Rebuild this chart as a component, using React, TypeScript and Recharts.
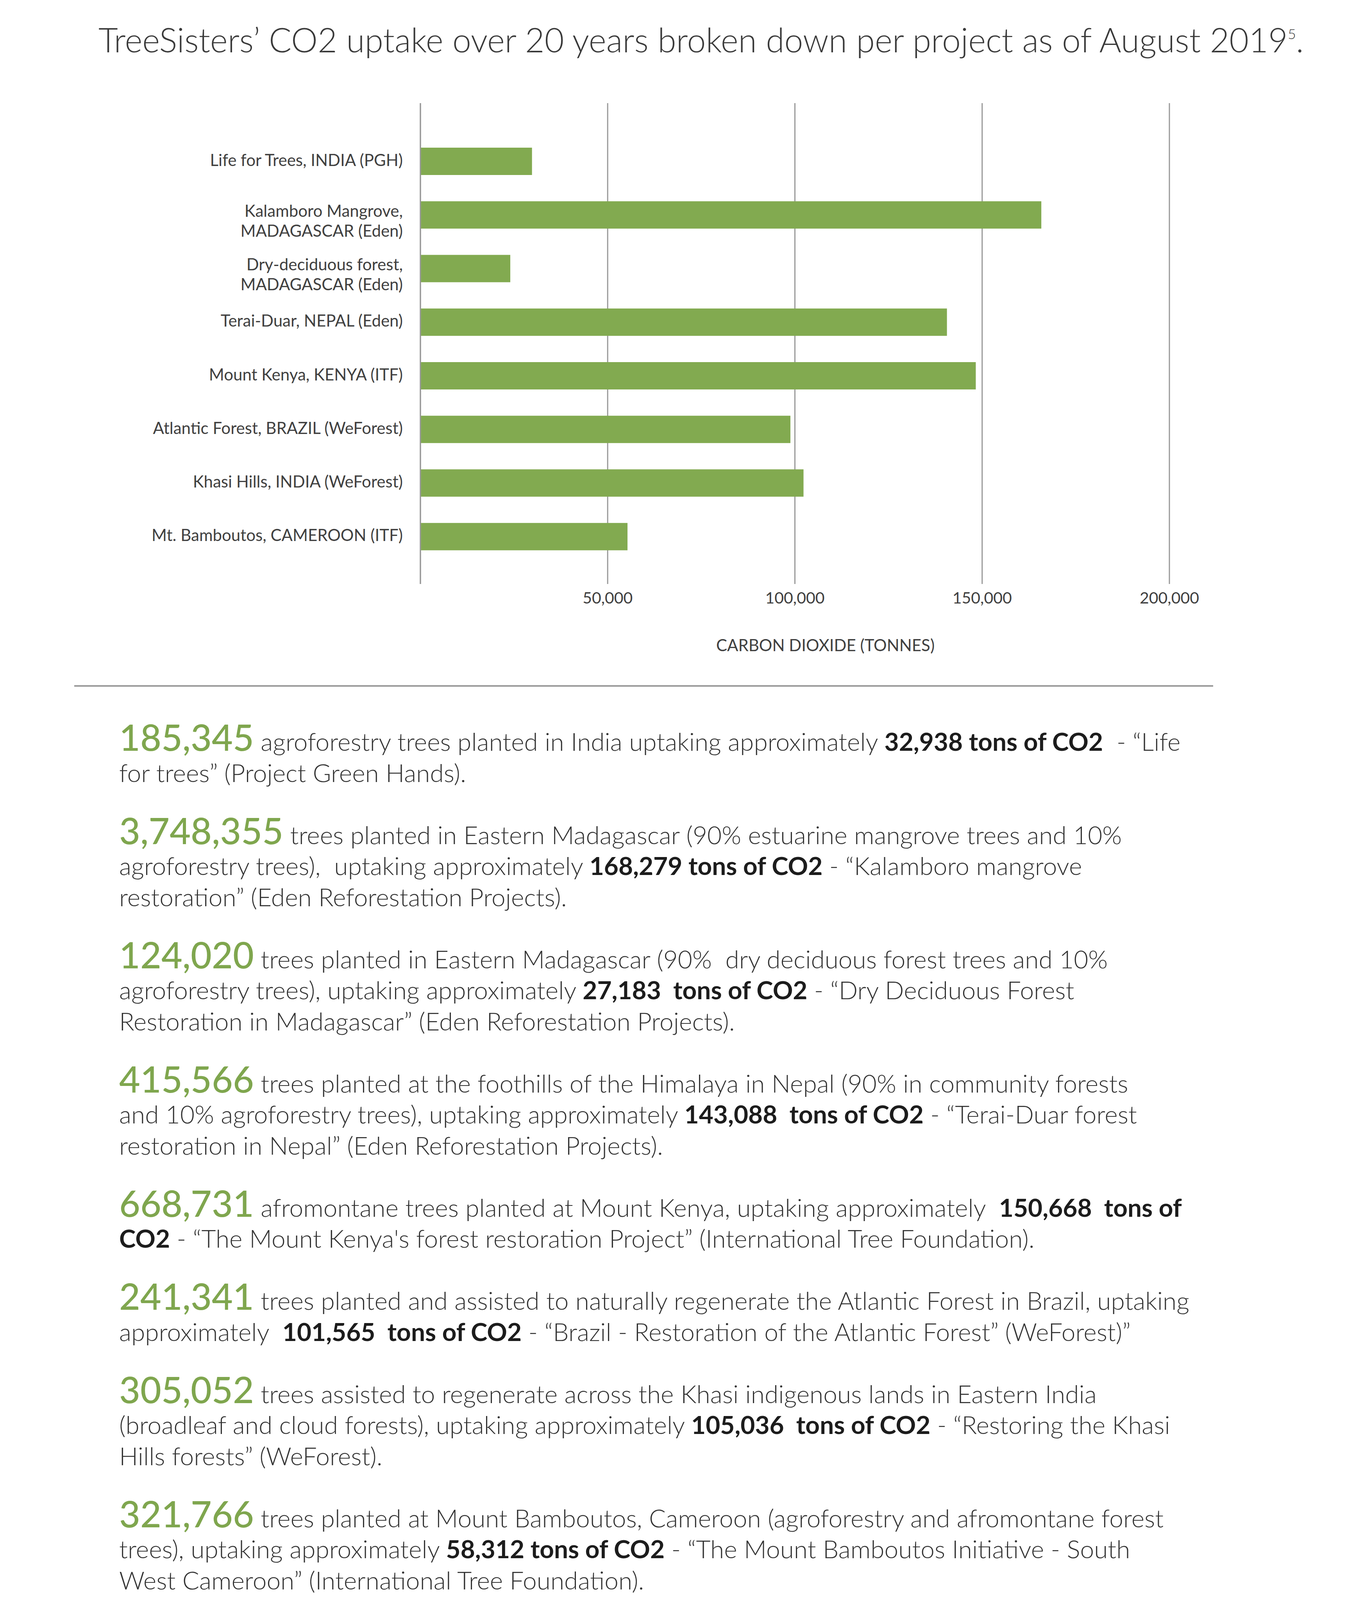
import React from 'react';
import { BarChart, Bar, XAxis, YAxis, CartesianGrid } from 'recharts';

// chart data
const projects = [
  'Life for Trees, INDIA (PGH)',
  'Kalamboro Mangrove,|MADAGASCAR (Eden)',
  'Dry-deciduous forest,|MADAGASCAR (Eden)',
  'Terai-Duar, NEPAL (Eden)',
  'Mount Kenya, KENYA (ITF)',
  'Atlantic Forest, BRAZIL (WeForest)',
  'Khasi Hills, INDIA (WeForest)',
  'Mt. Bamboutos, CAMEROON (ITF)',
];
const co2Tonnes = [29800, 165800, 24000, 140600, 148300, 98800, 102300, 55300];
const xTicks = [50000, 100000, 150000, 200000];

// text blocks under the chart; **...** marks bold
const treeCounts = ['185,345', '3,748,355', '124,020', '415,566', '668,731', '241,341', '305,052', '321,766'];
const paragraphLines = [
  [
    ' agroforestry trees planted in India uptaking approximately **32,938 tons of CO2**  - “Life',
    'for trees” (Project Green Hands).',
  ],
  [
    ' trees planted in Eastern Madagascar (90% estuarine mangrove trees and 10%',
    'agroforestry trees),  uptaking approximately **168,279 tons of CO2** - “Kalamboro mangrove',
    'restoration” (Eden Reforestation Projects).',
  ],
  [
    ' trees planted in Eastern Madagascar (90%  dry deciduous forest trees and 10%',
    'agroforestry trees), uptaking approximately **27,183  tons of CO2** - “Dry Deciduous Forest',
    'Restoration in Madagascar” (Eden Reforestation Projects).',
  ],
  [
    ' trees planted at the foothills of the Himalaya in Nepal (90% in community forests',
    'and 10% agroforestry trees), uptaking approximately **143,088  tons of CO2** - “Terai-Duar forest',
    'restoration in Nepal” (Eden Reforestation Projects).',
  ],
  [
    ' afromontane trees planted at Mount Kenya, uptaking approximately  **150,668  tons of**',
    '**CO2** - “The Mount Kenya\'s forest restoration Project” (International Tree Foundation).',
  ],
  [
    ' trees planted and assisted to naturally regenerate the Atlantic Forest in Brazil, uptaking',
    'approximately  **101,565  tons of CO2** - “Brazil - Restoration of the Atlantic Forest” (WeForest)”',
  ],
  [
    ' trees assisted to regenerate across the Khasi indigenous lands in Eastern India',
    '(broadleaf and cloud forests), uptaking approximately **105,036  tons of CO2** - “Restoring the Khasi',
    'Hills forests” (WeForest).',
  ],
  [
    ' trees planted at Mount Bamboutos, Cameroon (agroforestry and afromontane forest',
    'trees), uptaking approximately **58,312 tons of CO2** - “The Mount Bamboutos Initiative - South',
    'West Cameroon” (International Tree Foundation).',
  ],
];

const chartData = projects.map((name, i) => ({ name, co2: co2Tonnes[i] }));

const GREEN = '#82AA50';
const GRID = '#999999';
const LABEL = '#404040';

function ProjectTick({ x, y, payload }: any) {
  const lines = String(payload.value).split('|');
  const start = lines.length === 1 ? 12 : 5;
  return (
    <text x={x} y={y} textAnchor="end" fill={LABEL} fontSize={42} fontFamily="Lato">
      {lines.map((line, i) => (
        <tspan key={i} x={x} y={y + start + i * 51}>
          {line}
        </tspan>
      ))}
    </text>
  );
}

function ValueTick({ x, y, payload }: any) {
  return (
    <text x={x} y={y + 50} textAnchor="middle" fill={LABEL} fontSize={41} fontFamily="Lato">
      {Number(payload.value).toLocaleString('en-US')}
    </text>
  );
}

function AxisTitle({ viewBox }: any) {
  const cx = viewBox.x + viewBox.width / 2 + 78;
  return (
    <text x={cx} y={viewBox.y + 172} textAnchor="middle" fill={LABEL} fontSize={42} fontFamily="Lato">
      CARBON DIOXIDE (TONNES)
    </text>
  );
}

function renderLine(text: string) {
  const parts = text.split('**');
  return parts.map((p, i) =>
    i % 2 === 1 ? (
      <span key={i} style={{ fontWeight: 700, color: '#1c1c1c' }}>
        {p}
      </span>
    ) : (
      <span key={i}>{p}</span>
    )
  );
}

export default function App() {
  return (
    <div
      style={{
        position: 'absolute',
        left: 0,
        top: 0,
        width: 3445,
        height: 4134,
        background: '#fff',
        fontFamily: 'Lato, sans-serif',
        overflow: 'hidden',
      }}
    >
      <div
        style={{
          position: 'absolute',
          left: 252,
          top: 58,
          fontSize: 86,
          lineHeight: '85px',
          fontWeight: 300,
          color: '#3a3a3a',
          whiteSpace: 'nowrap',
        }}
      >
        TreeSisters’ CO2 uptake over 20 years broken down per project as of August 2019
        <span style={{ fontSize: 36, position: 'relative', top: -34, lineHeight: 0 }}>5</span>.
      </div>

      <div style={{ position: 'absolute', left: 0, top: 0 }}>
        <BarChart
          width={3445}
          height={1720}
          data={chartData}
          layout="vertical"
          margin={{ top: 264, right: 452, bottom: 165, left: 0 }}
        >
          <CartesianGrid horizontal={false} stroke={GRID} strokeWidth={3} />
          <XAxis
            type="number"
            domain={[0, 200000]}
            ticks={xTicks}
            axisLine={false}
            tickLine={false}
            tickSize={0}
            tickMargin={0}
            height={60}
            tick={<ValueTick />}
            label={<AxisTitle />}
          />
          <YAxis
            type="category"
            dataKey="name"
            width={1076}
            axisLine={{ stroke: GRID, strokeWidth: 3 }}
            tickLine={false}
            tickSize={0}
            tickMargin={45}
            padding={{ top: 80, bottom: 53 }}
            tick={<ProjectTick />}
            interval={0}
          />
          <Bar dataKey="co2" fill={GREEN} barSize={70} isAnimationActive={false} />
        </BarChart>
      </div>

      <div
        style={{
          position: 'absolute',
          left: 190,
          top: 1754,
          width: 2915,
          height: 4,
          background: '#9a9a9a',
        }}
      />

      <div
        style={{
          position: 'absolute',
          left: 305,
          top: 1858,
          fontSize: 64,
          lineHeight: '79.5px',
          fontWeight: 300,
          color: '#333333',
          whiteSpace: 'pre',
        }}
      >
        {paragraphLines.map((lines, p) => (
          <div key={p} style={{ marginBottom: 79.5 }}>
            {lines.map((line, i) => (
              <div key={i}>
                {i === 0 && (
                  <span style={{ fontSize: 93, lineHeight: 0, fontWeight: 500, color: '#7FA64E' }}>
                    {treeCounts[p]}
                  </span>
                )}
                {renderLine(line)}
              </div>
            ))}
          </div>
        ))}
      </div>
    </div>
  );
}
